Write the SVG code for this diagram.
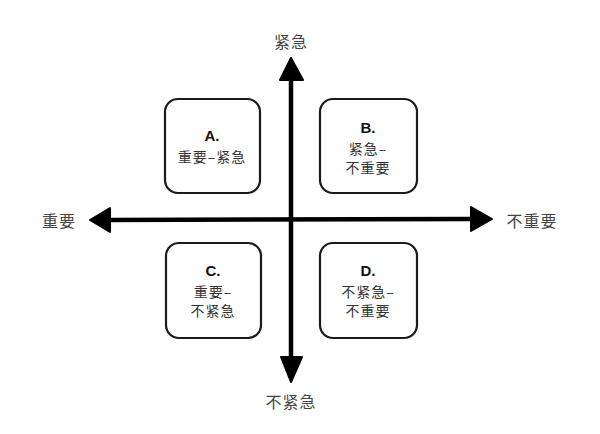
<svg xmlns="http://www.w3.org/2000/svg" width="600" height="434" viewBox="0 0 600 434">
<style>
.box{fill:#fff;stroke:#1a1a1a;stroke-width:2.2}
.ax{stroke:#000;stroke-width:4.5;fill:none}
.head{fill:#000;stroke:#000;stroke-width:2;stroke-linejoin:round}
.t{font-family:"Noto Sans CJK SC","Noto Sans",sans-serif;font-size:14px;fill:#333;text-anchor:middle;letter-spacing:1px}
.lt{font-family:"Liberation Sans",Arial,sans-serif;font-size:15px;font-weight:bold;fill:#111;text-anchor:middle}
.lab{font-family:"Noto Sans CJK SC","Noto Sans",sans-serif;font-size:16px;fill:#444;letter-spacing:1px}
</style>
<rect width="600" height="434" fill="#fff"/>
<g id="connectors">
<line class="ax" x1="291" y1="78" x2="291" y2="358"/>
<line class="ax" x1="108" y1="220" x2="472" y2="219"/>
<polygon class="head" points="291,58 303,80 280,80"/>
<polygon class="head" points="291,382 281,357 302,357"/>
<polygon class="head" points="90,220 110,208 110,232"/>
<polygon class="head" points="492,219 471,207 471,231"/>
</g>
<g id="label-top"><text class="lab" x="291" y="48" text-anchor="middle">紧急</text></g>
<g id="label-bottom"><text class="lab" x="291" y="408" text-anchor="middle">不紧急</text></g>
<g id="label-left"><text class="lab" x="59" y="227" text-anchor="middle">重要</text></g>
<g id="label-right"><text class="lab" x="532" y="227" text-anchor="middle">不重要</text></g>
<g id="nodeA">
<rect class="box" x="165" y="99" width="95" height="94" rx="13"/>
<text class="lt" x="212" y="141">A.</text>
<text class="t" x="212" y="162">重要–紧急</text>
</g>
<g id="nodeB">
<rect class="box" x="320" y="99" width="97" height="94" rx="13"/>
<text class="lt" x="368" y="133">B.</text>
<text class="t" x="368" y="154">紧急–</text>
<text class="t" x="368" y="173">不重要</text>
</g>
<g id="nodeC">
<rect class="box" x="166" y="243" width="95" height="95" rx="13"/>
<text class="lt" x="213" y="276">C.</text>
<text class="t" x="213" y="297">重要–</text>
<text class="t" x="213" y="316">不紧急</text>
</g>
<g id="nodeD">
<rect class="box" x="320" y="243" width="97" height="95" rx="13"/>
<text class="lt" x="368" y="276">D.</text>
<text class="t" x="368" y="297">不紧急–</text>
<text class="t" x="368" y="316">不重要</text>
</g>
</svg>
